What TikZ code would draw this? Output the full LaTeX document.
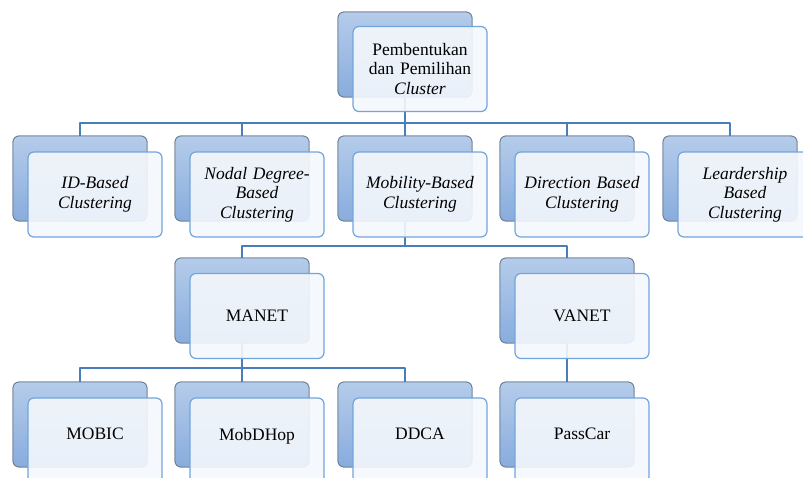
\documentclass[tikz,border=0pt]{standalone}
\usepackage{fontspec}
\setmainfont{Liberation Serif}
\usetikzlibrary{positioning}

\definecolor{backtop}{HTML}{B5CCEA}
\definecolor{backbot}{HTML}{88ACDD}
\definecolor{backline}{HTML}{6A7C93}
\definecolor{frontfill}{HTML}{F5F8FC}
\definecolor{frontline}{HTML}{72A5DC}
\definecolor{connline}{HTML}{4A7EBB}

\begin{document}
\begin{tikzpicture}[x=1pt,y=-1pt,line join=round,
    every node/.style={font=\fontsize{17.5}{19.5}\selectfont,inner sep=1pt},
    backbox/.style={rectangle,rounded corners=6pt,minimum width=134pt,minimum height=85pt,
        draw=backline,line width=0.8pt,top color=backtop,bottom color=backbot},
    frontbox/.style={rectangle,rounded corners=6pt,minimum width=134pt,minimum height=85pt,
        draw=frontline,line width=1.2pt,fill=frontfill,fill opacity=0.9,text opacity=1,
        align=center,text width=124pt},
    conn/.style={draw=connline,line width=2.4pt}]
    \clip (0,0) rectangle (803,477);
    \fill[white] (0,0) rectangle (803,477);
    % bar levels
    \coordinate (bar1) at (0,123);
    \coordinate (bar2) at (0,246);
    \coordinate (bar3) at (0,368);
    % boxes (back boxes only, needed for the connectors)
    \node[backbox] (top-b) at (405,54.5) {};
    \foreach \n/\x in {idb/80,nod/242,mob/405,dir/567,lead/730} {
        \node[backbox] (\n-b) at (\x,178.5) {};
    }
    \foreach \n/\x in {manet/242,vanet/567} {
        \node[backbox] (\n-b) at (\x,300.5) {};
    }
    \foreach \n/\x in {mobic/80,mobd/242,ddca/405,pass/567} {
        \node[backbox] (\n-b) at (\x,424.5) {};
    }
    % connectors
    \foreach \c in {idb,nod,mob,dir,lead} {
        \draw[conn] (top-b.south) -- (top-b.south |- bar1) -| (\c-b.north);
    }
    \foreach \c in {manet,vanet} {
        \draw[conn] (mob-b.south) -- (mob-b.south |- bar2) -| (\c-b.north);
    }
    \foreach \c in {mobic,mobd,ddca} {
        \draw[conn] (manet-b.south) -- (manet-b.south |- bar3) -| (\c-b.north);
    }
    \draw[conn] (vanet-b.south) -- (pass-b.north);
    % redraw back boxes over the connectors
    \node[backbox] at (top-b) {};
    \foreach \n in {idb,nod,mob,dir,lead,manet,vanet,mobic,mobd,ddca,pass} {
        \node[backbox] at (\n-b) {};
    }
    % front boxes with text
    \node[frontbox] (top) at (420,69) {Pembentukan\\dan Pemilihan\\\textit{Cluster}};
    \foreach \n/\x/\lab in {idb/95/{\textit{ID-Based}\\\textit{Clustering}},
        nod/257/{\textit{Nodal Degree-}\\\textit{Based}\\\textit{Clustering}},
        mob/420/{\textit{Mobility-Based}\\\textit{Clustering}},
        dir/582/{\textit{Direction Based}\\\textit{Clustering}},
        lead/745/{\textit{Leardership}\\\textit{Based}\\\textit{Clustering}}} {
        \node[frontbox] (\n) at (\x,194.5) {\lab};
    }
    \foreach \n/\x/\lab in {manet/257/MANET,vanet/582/VANET} {
        \node[frontbox] (\n) at (\x,316) {\lab};
    }
    \foreach \n/\x/\lab in {mobic/95/MOBIC,mobd/257/MobDHop,ddca/420/DDCA,pass/582/PassCar} {
        \node[frontbox] (\n) at (\x,440.5) {\raisebox{13pt}{\lab}};
    }
\end{tikzpicture}
\end{document}
